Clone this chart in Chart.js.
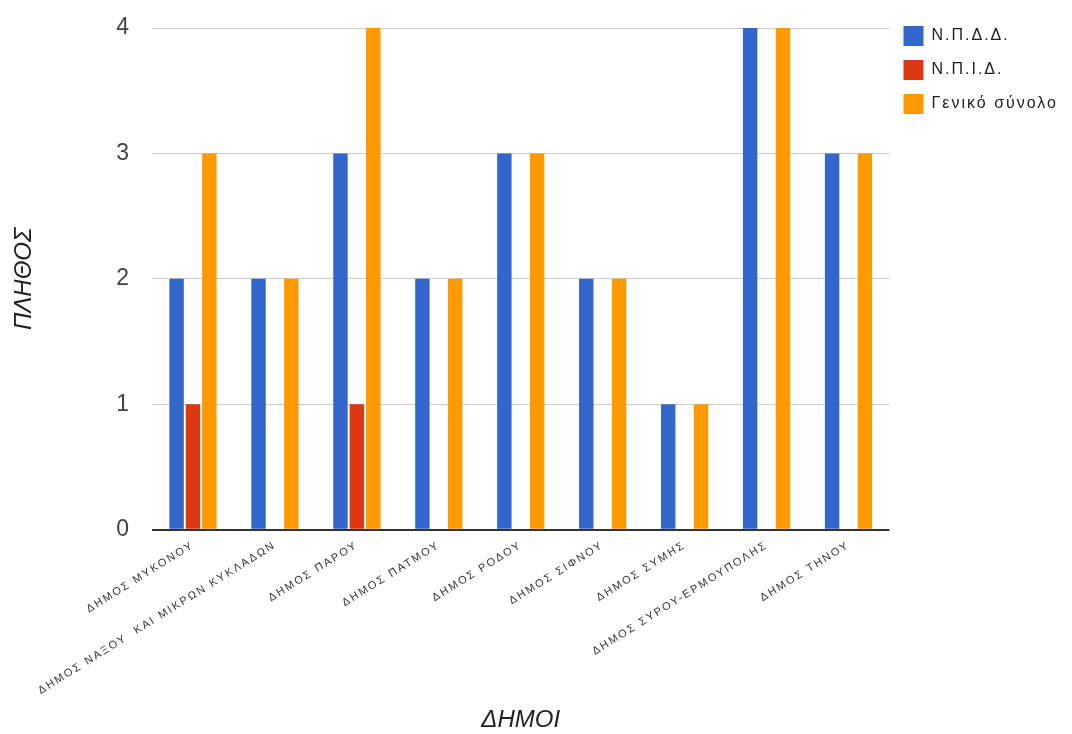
<!DOCTYPE html>
<html>
<head>
<meta charset="utf-8">
<script src="https://cdn.jsdelivr.net/npm/chart.js@4.4.0/dist/chart.umd.min.js"></script>
<style>
html,body{margin:0;padding:0;background:#fff;}
#wrap{width:1072px;height:734px;position:relative;}
</style>
</head>
<body>
<div id="wrap"><canvas id="c" width="1072" height="734"></canvas></div>
<script>
const categories = [
  "ΔΗΜΟΣ ΜΥΚΟΝΟΥ",
  "ΔΗΜΟΣ ΝΑΞΟΥ  ΚΑΙ ΜΙΚΡΩΝ ΚΥΚΛΑΔΩΝ",
  "ΔΗΜΟΣ ΠΑΡΟΥ",
  "ΔΗΜΟΣ ΠΑΤΜΟΥ",
  "ΔΗΜΟΣ ΡΟΔΟΥ",
  "ΔΗΜΟΣ ΣΙΦΝΟΥ",
  "ΔΗΜΟΣ ΣΥΜΗΣ",
  "ΔΗΜΟΣ ΣΥΡΟΥ-ΕΡΜΟΥΠΟΛΗΣ",
  "ΔΗΜΟΣ ΤΗΝΟΥ"
];
const npdd = [2, 2, 3, 2, 3, 2, 1, 4, 3];
const npid = [1, 0, 1, 0, 0, 0, 0, 0, 0];
const total = [3, 2, 4, 2, 3, 2, 1, 4, 3];
const seriesNames = ["Ν.Π.Δ.Δ.", "Ν.Π.Ι.Δ.", "Γενικό σύνολο"];
const yTicks = [0, 1, 2, 3, 4];
const xTitle = "ΔΗΜΟΙ";
const yTitle = "ΠΛΗΘΟΣ";

const font = "Liberation Sans, Arial, sans-serif";
const SPACING = '2px';

const spacingPlugin = {
  id: 'spacing',
  beforeInit(chart) { chart.ctx.letterSpacing = SPACING; },
  beforeUpdate(chart) { chart.ctx.letterSpacing = SPACING; },
  beforeLayout(chart) { chart.ctx.letterSpacing = SPACING; },
  beforeDraw(chart) { chart.ctx.letterSpacing = SPACING; }
};

// axis titles are drawn without the extra letter spacing
for (const S of [Chart.CategoryScale, Chart.LinearScale]) {
  const orig = S.prototype.drawTitle;
  S.prototype.drawTitle = function (...args) {
    const ctx = this.ctx;
    const prev = ctx.letterSpacing;
    ctx.letterSpacing = '0px';
    orig.apply(this, args);
    ctx.letterSpacing = prev;
  };
}

new Chart(document.getElementById('c'), {
  type: 'bar',
  plugins: [spacingPlugin],
  data: {
    labels: categories,
    datasets: [
      {label: seriesNames[0], data: npdd, backgroundColor: '#3366CC'},
      {label: seriesNames[1], data: npid, backgroundColor: '#DC3912'},
      {label: seriesNames[2], data: total, backgroundColor: '#FF9900'}
    ]
  },
  options: {
    responsive: false,
    animation: false,
    devicePixelRatio: 1,
    datasets: {bar: {categoryPercentage: 0.6, barPercentage: 0.88, borderWidth: 0}},
    layout: {padding: {top: 12, right: 4, bottom: -1, left: 10}},
    plugins: {
      legend: {
        position: 'right',
        align: 'start',
        labels: {
          boxWidth: 20, boxHeight: 20, padding: 14,
          color: '#222',
          font: {family: font, size: 16}
        }
      },
      tooltip: {enabled: false}
    },
    scales: {
      x: {
        grid: {display: false, drawTicks: false},
        border: {display: false},
        ticks: {
          autoSkip: false, maxRotation: 32, minRotation: 32,
          color: '#333', padding: 9,
          font: {family: font, size: 11}
        },
        title: {display: true, text: xTitle, color: '#222', padding: {top: 0, bottom: 0},
          font: {family: font, size: 24, style: 'italic'}}
      },
      y: {
        min: 0, max: 4,
        afterBuildTicks: (axis) => { axis.ticks = yTicks.map(v => ({value: v})); },
        afterFit: (axis) => { axis.width = 142; axis.paddingTop = 28; },
        grid: {
          drawTicks: false,
          color: (ctx) => ctx.tick && ctx.tick.value === 0 ? '#333' : '#cccccc',
          lineWidth: (ctx) => ctx.tick && ctx.tick.value === 0 ? 2 : 1
        },
        border: {display: false},
        ticks: {color: '#444', padding: 21, font: {family: font, size: 23}},
        title: {display: true, text: yTitle, color: '#222', padding: {top: 0, bottom: 0},
          font: {family: font, size: 24, style: 'italic'}}
      }
    }
  }
});
</script>
</body>
</html>
